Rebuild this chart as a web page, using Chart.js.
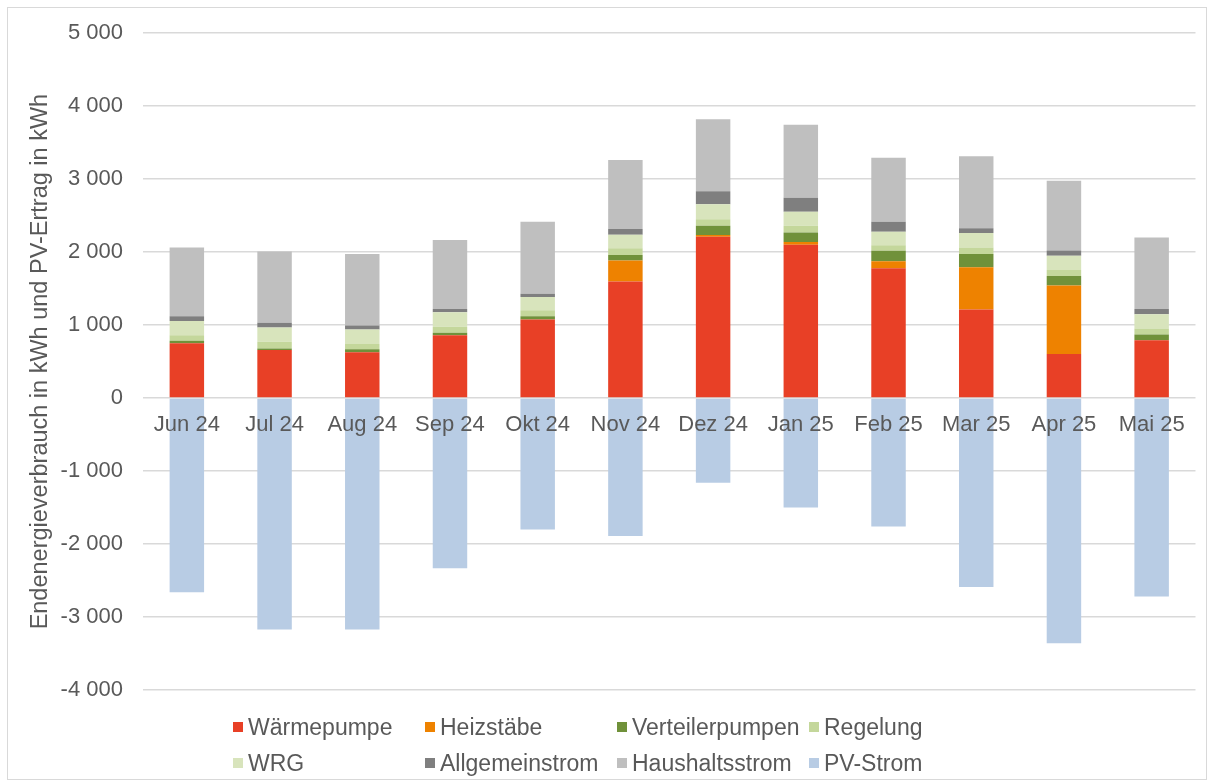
<!DOCTYPE html>
<html><head><meta charset="utf-8">
<script src="https://cdn.jsdelivr.net/npm/chart.js@4.4.1/dist/chart.umd.min.js"></script>
<style>
html,body{margin:0;padding:0;background:#fff;}
#wrap{position:relative;width:1210px;height:781px;overflow:hidden;}
#frame{position:absolute;left:7px;top:7px;width:1200px;height:773px;border:1px solid #d9d9d9;box-sizing:border-box;}
canvas{position:absolute;left:0;top:0;}
#legend{position:absolute;left:0;top:0;width:1210px;height:781px;pointer-events:none;font-family:"Liberation Sans",Arial,sans-serif;font-size:23px;color:#595959;}
.item{position:absolute;display:flex;align-items:center;white-space:nowrap;height:30px;}
.sw{width:10px;height:10px;margin-right:5px;flex:none;}
</style></head>
<body><div id="wrap"><div id="frame"></div><canvas id="c" width="1210" height="781"></canvas><div id="legend"></div></div>
<script>
const categories = ["Jun 24","Jul 24","Aug 24","Sep 24","Okt 24","Nov 24","Dez 24","Jan 25","Feb 25","Mar 25","Apr 25","Mai 25"];
const waermepumpe    = [750, 658, 627, 862, 1076, 1598, 2210, 2100, 1780, 1213, 604, 794];
const heizstaebe     = [0, 0, 0, 0, 0, 287, 25, 40, 95, 580, 940, 0];
const verteilerpumpen= [35, 23, 41, 33, 46, 77, 125, 130, 145, 180, 130, 78];
const regelung       = [75, 91, 72, 82, 81, 91, 90, 90, 75, 90, 80, 82];
const wrg            = [195, 195, 200, 199, 182, 186, 205, 195, 185, 200, 195, 195];
const allgemeinstrom = [65, 64, 54, 46, 46, 77, 180, 190, 135, 65, 75, 73];
const haushaltsstrom = [945, 976, 981, 944, 985, 945, 985, 1000, 880, 985, 955, 980];
const pvStrom        = [-2660, -3170, -3170, -2330, -1800, -1890, -1160, -1500, -1760, -2590, -3360, -2720];
const yTickValues    = [5000, 4000, 3000, 2000, 1000, 0, -1000, -2000, -3000, -4000];

const seriesNames  = ["Wärmepumpe","Heizstäbe","Verteilerpumpen","Regelung","WRG","Allgemeinstrom","Haushaltsstrom","PV-Strom"];
const seriesData   = [waermepumpe, heizstaebe, verteilerpumpen, regelung, wrg, allgemeinstrom, haushaltsstrom, pvStrom];
const seriesColors = ["#E84026","#EE8200","#70913A","#C4D79B","#D8E4BC","#7F7F7F","#BFBFBF","#B8CCE4"];

const FONT = '"Liberation Sans", Arial, sans-serif';
const TXT = '#595959';

function fmt(v){
  const s = Math.abs(v).toString().replace(/\B(?=(\d{3})+(?!\d))/g, ' ');
  return (v < 0 ? '-' : '') + s;
}

const datasets = seriesNames.map((n,i)=>({
  label: n,
  data: seriesData[i],
  backgroundColor: seriesColors[i],
  borderWidth: 0,
  barPercentage: 0.393,
  categoryPercentage: 1.0
}));

new Chart(document.getElementById('c'), {
  type: 'bar',
  data: { labels: categories, datasets },
  options: {
    responsive: false,
    animation: false,
    layout: { padding: { left: 8, right: 14.5, top: 25, bottom: 91 } },
    plugins: { legend: { display: false }, tooltip: { enabled: false } },
    scales: {
      x: {
        stacked: true,
        position: { y: 0 },
        grid: { display: false, drawTicks: false },
        border: { display: false },
        ticks: { z: 2, font: { family: FONT, size: 22 }, color: TXT, padding: 14, maxRotation: 0, autoSkip: false }
      },
      y: {
        stacked: true,
        min: -4000, max: 5000,
        afterBuildTicks: (s) => { s.ticks = yTickValues.map(v => ({ value: v })); },
        afterFit: (s) => { s.width = 135; },
        ticks: { font: { family: FONT, size: 22 }, color: TXT, padding: 20, callback: (v) => fmt(v) },
        grid: { color: '#d9d9d9', lineWidth: 1.5, drawTicks: false },
        border: { display: false },
        title: {
          display: true,
          text: 'Endenergieverbrauch in kWh und PV-Ertrag in kWh',
          font: { family: FONT, size: 23.5 },
          color: TXT,
          padding: { top: 18, bottom: 0 }
        }
      }
    }
  }
});

// HTML legend built from the datasets (Excel style, equal-width columns)
const legendEl = document.getElementById('legend');
const colX = [233, 425, 617, 809];
const rowY = [727, 763];
seriesNames.forEach((n,i)=>{
  const d = document.createElement('div');
  d.className = 'item';
  d.style.left = colX[i % 4] + 'px';
  d.style.top = (rowY[Math.floor(i / 4)] - 15) + 'px';
  const sw = document.createElement('span');
  sw.className = 'sw';
  sw.style.background = seriesColors[i];
  const t = document.createElement('span');
  t.textContent = n;
  d.appendChild(sw); d.appendChild(t);
  legendEl.appendChild(d);
});
</script>
</body></html>
